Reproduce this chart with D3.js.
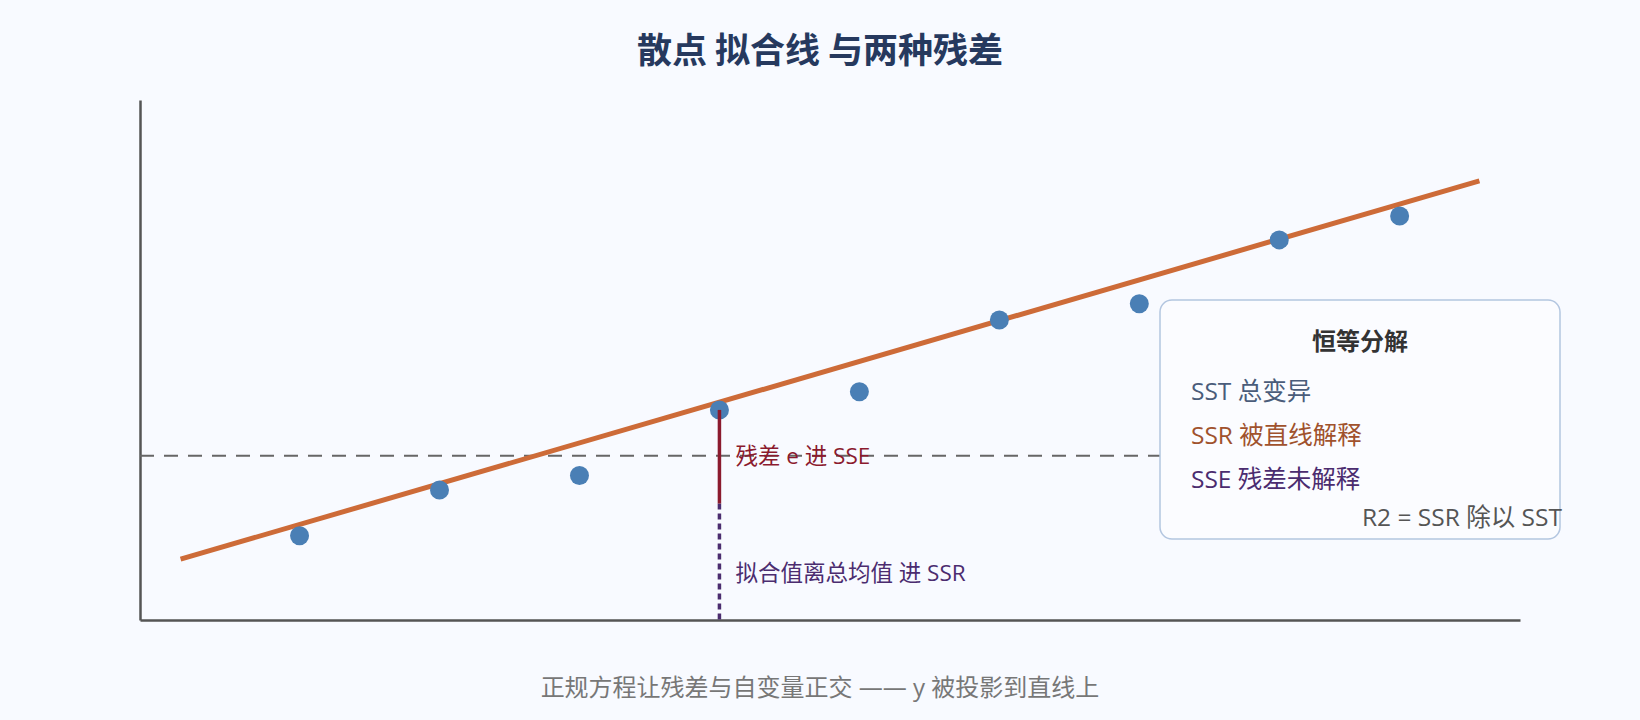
<!DOCTYPE html>
<html>
<head>
<meta charset="utf-8">
<script src="https://cdn.jsdelivr.net/npm/d3@7"></script>
<style>
  html, body { margin: 0; padding: 0; background: #f8faff; }
  svg { display: block; font-family: "Open Sans", "Noto Sans CJK SC", sans-serif; }
</style>
</head>
<body>
<svg id="chart" width="1640" height="720"></svg>
<script>
// ---- data ----
const pointX = [1, 2, 3, 4, 5, 6, 7, 8, 8.86];
const pointY = [1.62, 2.50, 2.78, 4.04, 4.39, 5.77, 6.08, 7.31, 7.77];
const fitXRange = [0.15, 9.43];
const fitIntercept = 1.053;
const fitSlope = 0.784;
const meanY = 3.16;
const residualIndex = 3;
const residualSeg = [4.04, 2.24];   // point -> fitted (SSE part)
const ssrSeg = [2.24, 0];           // fitted -> mean region (SSR part)
const xDomain = [-0.14, 9.72];
const yDomain = [0, 10];

const titleText = "散点 拟合线 与两种残差";
const subtitleText = "正规方程让残差与自变量正交 —— y 被投影到直线上";
const sseLabel = "残差 e 进 SSE";
const ssrLabel = "拟合值离总均值 进 SSR";
const legendTitle = "恒等分解";
const legendItems = ["SST 总变异", "SSR 被直线解释", "SSE 残差未解释"];
const legendColors = ["#4a5c7a", "#a0522d", "#4b2c6f"];
const legendNote = "R2 = SSR 除以 SST";

// ---- layout ----
const svg = d3.select("#chart");
const x = d3.scaleLinear().domain(xDomain).range([140, 1520]);
const y = d3.scaleLinear().domain(yDomain).range([620, 100]);

svg.append("rect").attr("width", 1640).attr("height", 720).attr("fill", "#f8faff");

// title
svg.append("text").attr("x", 820).attr("y", 63).attr("text-anchor", "middle")
  .attr("font-family", "Noto Sans CJK SC")
  .attr("font-size", 35).attr("font-weight", "bold").attr("fill", "#26395e").text(titleText);

// axes
const xAxis = d3.axisBottom(x).tickValues([]).tickSizeOuter(0);
const yAxis = d3.axisLeft(y).tickValues([]).tickSizeOuter(0);
svg.append("g").attr("transform", "translate(0,620)").call(xAxis)
  .select(".domain").attr("stroke", "#555").attr("stroke-width", 2.5);
svg.append("g").attr("transform", "translate(140,0)").call(yAxis)
  .select(".domain").attr("stroke", "#555").attr("stroke-width", 2.5);

// mean dashed line
svg.append("line").attr("x1", x(xDomain[0])).attr("x2", x(xDomain[1]))
  .attr("y1", y(meanY)).attr("y2", y(meanY))
  .attr("stroke", "#666").attr("stroke-width", 2).attr("stroke-dasharray", "14,10");

// fit line
const line = d3.line().x(d => x(d)).y(d => y(fitIntercept + fitSlope * d));
svg.append("path").datum(fitXRange).attr("d", line)
  .attr("fill", "none").attr("stroke", "#cd6b38").attr("stroke-width", 5);

// points
svg.selectAll("circle.pt").data(pointX).enter().append("circle").attr("class", "pt")
  .attr("cx", d => x(d)).attr("cy", (d, i) => y(pointY[i])).attr("r", 9.5)
  .attr("fill", "#4a7fb5");

// residual segments
const rx = x(pointX[residualIndex]);
svg.append("line").attr("x1", rx).attr("x2", rx)
  .attr("y1", y(ssrSeg[0])).attr("y2", y(ssrSeg[1]))
  .attr("stroke", "#4b2c6f").attr("stroke-width", 3.5).attr("stroke-dasharray", "6,4");
svg.append("line").attr("x1", rx).attr("x2", rx)
  .attr("y1", y(residualSeg[0])).attr("y2", y(residualSeg[1]))
  .attr("stroke", "#8b1a2e").attr("stroke-width", 3.5);

svg.append("text").attr("x", rx + 16).attr("y", 464).attr("font-size", 22.5)
  .attr("fill", "#8b1a2e").text(sseLabel);
svg.append("text").attr("x", rx + 16).attr("y", 581).attr("font-size", 22.5)
  .attr("fill", "#4b2c6f").text(ssrLabel);

// legend box
const lg = svg.append("g");
lg.append("rect").attr("x", 1160).attr("y", 300).attr("width", 400).attr("height", 239)
  .attr("rx", 12).attr("fill", "#fbfcff").attr("stroke", "#b3c6e0").attr("stroke-width", 1.5);
lg.append("text").attr("x", 1360).attr("y", 350).attr("text-anchor", "middle")
  .attr("font-family", "Noto Sans CJK SC")
  .attr("font-size", 24).attr("font-weight", "bold").attr("fill", "#333").text(legendTitle);
lg.selectAll("text.item").data(legendItems).enter().append("text").attr("class", "item")
  .attr("x", 1191).attr("y", (d, i) => 400 + i * 44).attr("font-size", 24.5)
  .attr("fill", (d, i) => legendColors[i]).text(d => d);
lg.append("text").attr("x", 1362).attr("y", 526).attr("font-size", 24.5)
  .attr("fill", "#555").text(legendNote);

// subtitle
svg.append("text").attr("x", 820).attr("y", 696).attr("text-anchor", "middle")
  .attr("font-size", 24).attr("fill", "#777").text(subtitleText);
</script>
</body>
</html>
